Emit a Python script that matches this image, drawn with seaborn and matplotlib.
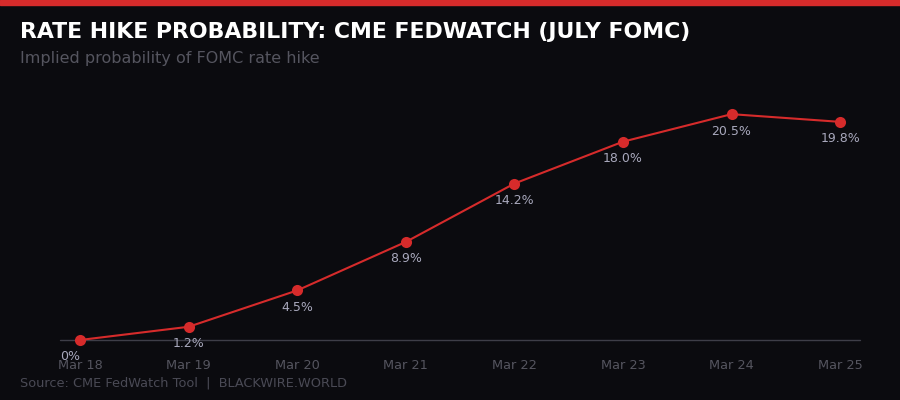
import seaborn as sns
import matplotlib.pyplot as plt
import pandas as pd

# data
dates = ['Mar 18', 'Mar 19', 'Mar 20', 'Mar 21', 'Mar 22', 'Mar 23', 'Mar 24', 'Mar 25']
prob = [0, 1.2, 4.5, 8.9, 14.2, 18.0, 20.5, 19.8]
labels = ['0%', '1.2%', '4.5%', '8.9%', '14.2%', '18.0%', '20.5%', '19.8%']

bg = '#0b0b0f'
red = '#d62b2b'

sns.set_style('dark')
plt.rcParams['font.family'] = ['DejaVu Sans']

df = pd.DataFrame({'idx': range(len(dates)), 'prob': prob})

fig = plt.figure(figsize=(9, 4), dpi=100, facecolor=bg)
ax = fig.add_axes([0.0667, 0.15, 0.889, 0.65])
ax.set_facecolor(bg)

sns.lineplot(data=df, x='idx', y='prob', ax=ax, color=red, linewidth=1.5,
             marker='o', markersize=8, markeredgewidth=0, zorder=3, clip_on=False)

# value labels under each point
for i, (v, t) in enumerate(zip(prob, labels)):
    ax.annotate(t, (i, v), xytext=(0, -7.5), textcoords='offset points',
                ha='right' if i == 0 else 'center', va='top',
                color='#a8a8bc', fontsize=9)

# baseline at zero
ax.axhline(0, color='#3e3e48', linewidth=1, zorder=1, clip_on=False)
ax.set_xlim(-0.184, 7.184)
ax.set_ylim(0, 23.6)
ax.set_xticks(range(len(dates)))
ax.set_xticklabels(dates, color='#55555f', fontsize=9.3)
ax.tick_params(axis='x', length=0, pad=14)
ax.set_yticks([])
ax.set_xlabel('')
ax.set_ylabel('')
ax.grid(False)
for s in ax.spines.values():
    s.set_visible(False)

# top red bar
fig.patches.append(plt.Rectangle((0, 0.988), 1, 0.012, transform=fig.transFigure,
                                 color=red, zorder=0))

fig.text(20 / 900, 1 - 32 / 400, 'RATE HIKE PROBABILITY: CME FEDWATCH (JULY FOMC)',
         color='white', fontsize=15.8, fontweight='bold', va='center', ha='left')
fig.text(20 / 900, 1 - 58 / 400, 'Implied probability of FOMC rate hike',
         color='#55555f', fontsize=11.5, va='center', ha='left')
fig.text(20 / 900, 1 - 383 / 400, 'Source: CME FedWatch Tool  |  BLACKWIRE.WORLD',
         color='#4a4a55', fontsize=9.3, va='center', ha='left')

fig.savefig('out.png', dpi=100, facecolor=bg)
